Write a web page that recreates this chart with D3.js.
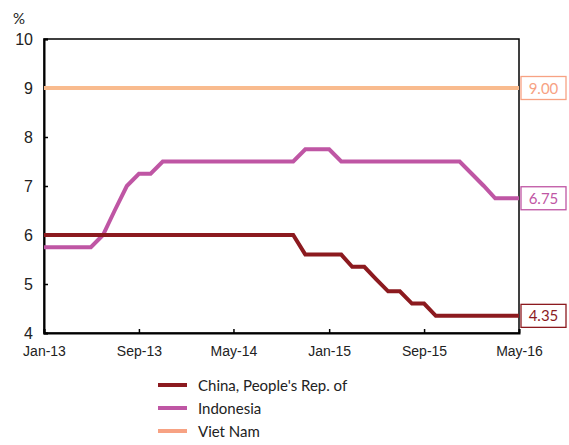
<!DOCTYPE html>
<html>
<head>
<meta charset="utf-8">
<script src="https://cdn.jsdelivr.net/npm/d3@7"></script>
<style>
  html, body { margin: 0; padding: 0; background: #fff; }
  svg { display: block; font-family: Lato, "Open Sans", sans-serif; }
</style>
</head>
<body>
<svg id="chart" width="569" height="445"></svg>
<script>
// Policy rates, monthly from Jan-2013 to May-2016 (%)
const startMonth = "2013-01";
const china = [
  6.00, 6.00, 6.00, 6.00, 6.00, 6.00, 6.00, 6.00, 6.00, 6.00, 6.00, 6.00,
  6.00, 6.00, 6.00, 6.00, 6.00, 6.00, 6.00, 6.00, 6.00, 6.00, 5.60, 5.60,
  5.60, 5.60, 5.35, 5.35, 5.10, 4.85, 4.85, 4.60, 4.60, 4.35, 4.35, 4.35,
  4.35, 4.35, 4.35, 4.35, 4.35
];
const indonesia = [
  5.75, 5.75, 5.75, 5.75, 5.75, 6.00, 6.50, 7.00, 7.25, 7.25, 7.50, 7.50,
  7.50, 7.50, 7.50, 7.50, 7.50, 7.50, 7.50, 7.50, 7.50, 7.50, 7.75, 7.75,
  7.75, 7.50, 7.50, 7.50, 7.50, 7.50, 7.50, 7.50, 7.50, 7.50, 7.50, 7.50,
  7.25, 7.00, 6.75, 6.75, 6.75
];
const vietnam = [
  9.00, 9.00, 9.00, 9.00, 9.00, 9.00, 9.00, 9.00, 9.00, 9.00, 9.00, 9.00,
  9.00, 9.00, 9.00, 9.00, 9.00, 9.00, 9.00, 9.00, 9.00, 9.00, 9.00, 9.00,
  9.00, 9.00, 9.00, 9.00, 9.00, 9.00, 9.00, 9.00, 9.00, 9.00, 9.00, 9.00,
  9.00, 9.00, 9.00, 9.00, 9.00
];
const seriesNames = ["China, People's Rep. of", "Indonesia", "Viet Nam"];
const seriesColors = ["#8c1a1f", "#bf56a4", "#f9bb8e"];
const labelColors = ["#8c1a1f", "#bf56a4", "#f7a283"];
const xTickLabels = ["Jan-13", "Sep-13", "May-14", "Jan-15", "Sep-15", "May-16"];
const yTicks = [4, 5, 6, 7, 8, 9, 10];

const svg = d3.select("#chart");
const margin = { left: 44, right: 50, top: 39, bottom: 112 };
const W = 569, H = 445;

const parseMonth = d3.timeParse("%Y-%m");
const t0 = parseMonth(startMonth);
const dates = china.map((_, i) => d3.timeMonth.offset(t0, i));

const x = d3.scaleTime()
  .domain([dates[0], dates[dates.length - 1]])
  .range([margin.left, W - margin.right]);
const y = d3.scaleLinear()
  .domain([4, 10])
  .range([H - margin.bottom, margin.top]);

const fmt = d3.timeFormat("%b-%y");
const tickDates = xTickLabels.map(l => d3.timeParse("%b-%y")(l));

// Frame
svg.append("rect")
  .attr("x", x.range()[0]).attr("y", y.range()[1])
  .attr("width", x.range()[1] - x.range()[0])
  .attr("height", y.range()[0] - y.range()[1])
  .attr("fill", "none").attr("stroke", "#000").attr("stroke-width", 1.5);

// Y axis
const yAxis = svg.append("g")
  .attr("transform", `translate(${margin.left},0)`)
  .call(d3.axisLeft(y).tickValues(yTicks).tickSize(-4).tickPadding(11).tickFormat(d3.format("d")));
yAxis.select(".domain").attr("stroke", "#000").attr("stroke-width", 2);
yAxis.selectAll(".tick line").attr("stroke", "#000").attr("stroke-width", 1.5);
yAxis.selectAll(".tick text").attr("font-size", 16).attr("fill", "#222");

// X axis
const xAxis = svg.append("g")
  .attr("transform", `translate(0,${H - margin.bottom})`)
  .call(d3.axisBottom(x).tickValues(tickDates).tickSize(-4).tickPadding(13).tickFormat(fmt));
xAxis.select(".domain").attr("stroke", "#000").attr("stroke-width", 2);
xAxis.selectAll(".tick line").attr("stroke", "#000").attr("stroke-width", 1.5);
xAxis.selectAll(".tick text").attr("font-size", 14).attr("fill", "#222");

// Unit label
svg.append("text").attr("x", 13).attr("y", 24)
  .attr("font-size", 15).attr("fill", "#222").text("%");

// Lines (drawn so that China sits on top)
const line = d3.line()
  .x((d, i) => x(dates[i]))
  .y(d => y(d));
const allSeries = [china, indonesia, vietnam];
[2, 1, 0].forEach(k => {
  svg.append("path")
    .datum(allSeries[k])
    .attr("fill", "none")
    .attr("stroke", seriesColors[k])
    .attr("stroke-width", 4)
    .attr("stroke-linejoin", "miter")
    .attr("d", line);
});

// End-value labels
const lastIdx = dates.length - 1;
allSeries.forEach((s, k) => {
  const v = s[lastIdx];
  const cy = y(v);
  const g = svg.append("g");
  g.append("rect")
    .attr("x", x.range()[1] + 2).attr("y", cy - 11.5)
    .attr("width", 45).attr("height", 23)
    .attr("fill", "#fff").attr("stroke", labelColors[k]).attr("stroke-width", 1.3);
  g.append("text")
    .attr("x", x.range()[1] + 24.5).attr("y", cy + 5.5)
    .attr("text-anchor", "middle").attr("font-size", 15)
    .attr("fill", labelColors[k]).text(d3.format(".2f")(v));
});

// Legend
const legend = svg.append("g").attr("transform", "translate(158,385)");
seriesNames.forEach((name, k) => {
  const row = legend.append("g").attr("transform", `translate(0,${k * 23})`);
  row.append("line").attr("x1", 0).attr("x2", 29).attr("y1", 0).attr("y2", 0)
    .attr("stroke", k === 2 ? labelColors[k] : seriesColors[k]).attr("stroke-width", 4);
  row.append("text").attr("x", 40).attr("y", 5.5)
    .attr("font-size", 15).attr("fill", "#222").text(name);
});
</script>
</body>
</html>
